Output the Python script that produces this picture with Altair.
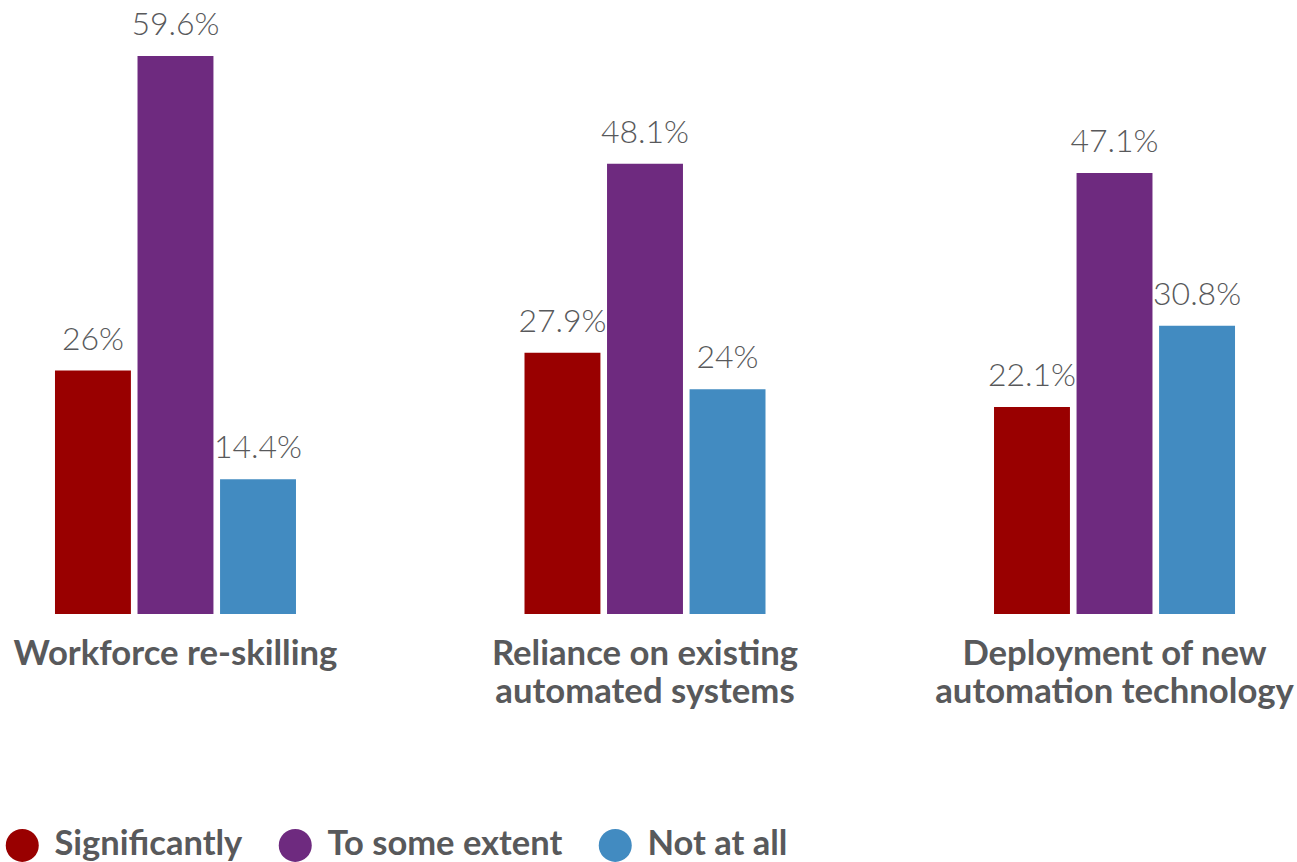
import altair as alt
import pandas as pd

categories = ["Workforce re-skilling", "Reliance on existing|automated systems", "Deployment of new|automation technology"]
series = ["Significantly", "To some extent", "Not at all"]
significantly = [26.0, 27.9, 22.1]
some_extent = [59.6, 48.1, 47.1]
not_at_all = [14.4, 24.0, 30.8]
colors = ["#990000", "#6E2A7F", "#428BC1"]

rows = []
for i, c in enumerate(categories):
    for s, vals in zip(series, [significantly, some_extent, not_at_all]):
        v = vals[i]
        rows.append({"category": c, "series": s, "value": v, "label": f"{v:g}%"})
df = pd.DataFrame(rows)

TXT = "#58595B"
FONT = "Lato"

x = alt.X("category:N", sort=categories, title=None,
          scale=alt.Scale(paddingInner=0.4867, paddingOuter=0.1171),
          axis=alt.Axis(labelExpr="split(datum.label, '|')", labelAngle=0, labelFont=FONT,
                        labelFontSize=34.7, labelFontWeight=700, labelColor=TXT,
                        labelPadding=23, labelLineHeight=38, domain=False, ticks=False,
                        labelBaseline="top", labelLimit=600, labelOverlap=False))
xo = alt.XOffset("series:N", sort=series, scale=alt.Scale(paddingInner=0.08, paddingOuter=0))
y = alt.Y("value:Q", scale=alt.Scale(domain=[0, 60.03], nice=False, zero=True), axis=None)

bars = alt.Chart(df).mark_bar().encode(
    x=x, xOffset=xo, y=y,
    color=alt.Color("series:N", sort=series, scale=alt.Scale(domain=series, range=colors),
                    legend=alt.Legend(title=None, orient="none", direction="horizontal",
                                      legendX=5, legendY=776, symbolType="circle",
                                      symbolSize=1089, symbolStrokeWidth=0, labelFont=FONT,
                                      labelFontSize=34.5, labelFontWeight=700, labelColor=TXT,
                                      labelOffset=15, columnPadding=35, labelLimit=400))
)
labels = alt.Chart(df).mark_text(baseline="alphabetic", dy=-21, font=FONT, fontSize=32,
                                 fontWeight=300, color=TXT).encode(
    x=x, xOffset=xo, y=y, text="label:N")

chart = (bars + labels).properties(
    width=1290, height=562,
    autosize=alt.AutoSizeParams(type="none"),
    padding={"left": 0, "top": 52, "right": 7, "bottom": 248},
).configure(background="white").configure_view(strokeWidth=0, stroke="transparent")

chart.save("out.html", embed_options={"renderer": "svg", "actions": False})
